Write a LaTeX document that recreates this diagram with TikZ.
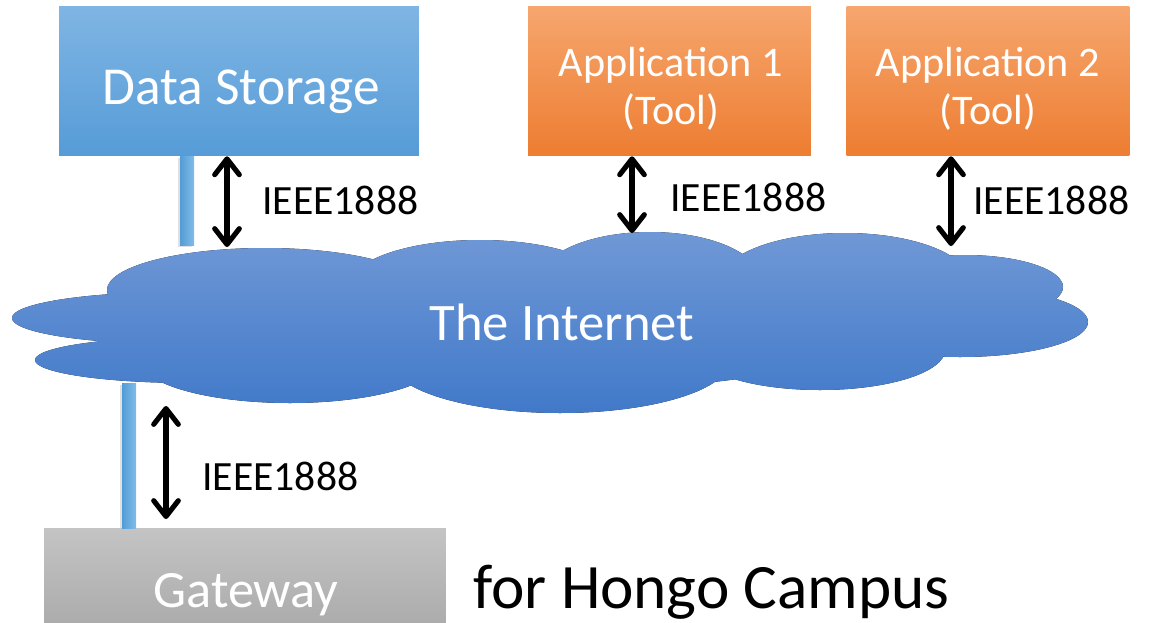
\documentclass[tikz,border=0pt]{standalone}
\usepackage{fontspec}
\setmainfont{Carlito}
\usetikzlibrary{arrows.meta}

\definecolor{dsTop}{RGB}{127,181,228}
\definecolor{dsBot}{RGB}{86,156,215}
\definecolor{apTop}{RGB}{246,166,110}
\definecolor{apBot}{RGB}{237,125,49}
\definecolor{gwTop}{RGB}{196,196,196}
\definecolor{gwBot}{RGB}{168,168,168}
\definecolor{cloudTop}{RGB}{112,152,214}
\definecolor{cloudBot}{RGB}{64,121,201}
\definecolor{stickL}{RGB}{84,156,214}
\definecolor{stickR}{RGB}{128,188,233}

\tikzset{
  box/.style={draw=none, inner sep=0pt, minimum width=#1},
  dsbox/.style={box=7.2cm, minimum height=3cm, top color=dsTop, bottom color=dsBot},
  apbox/.style={box=5.66cm, minimum height=3cm, top color=apTop, bottom color=apBot},
  gwbox/.style={box=8.04cm, minimum height=2.2cm, top color=gwTop, bottom color=gwBot},
  boxtext/.style={text=white, inner sep=0pt, anchor=base},
  proto/.style={inner sep=0pt, anchor=base west, font=\fontsize{23.7}{28}\selectfont},
  barb/.tip={Straight Barb[length=9pt,width=14pt,round]},
  biarrow/.style={line width=2.9pt, barb-barb},
  stick/.style={left color=stickL, right color=stickR},
  stickshadow/.style={fill=black, opacity=0.12}
}

\begin{document}
\begin{tikzpicture}[x=0.02cm, y=-0.02cm]
\clip (0,0) rectangle (1149,622);
\fill[white] (0,0) rectangle (1149,622);

% boxes
\node[dsbox] (ds) at (239,81) {};
\node[apbox] (ap1) at (669.5,81) {};
\node[apbox] (ap2) at (988,81) {};
\node[gwbox] (gw) at (245,583) {};

% box captions
\node[boxtext, font=\fontsize{30.4}{36}\selectfont] (dst) at (241,104) {Data Storage};
\node[boxtext, font=\fontsize{24}{29}\selectfont] (ap1a) at (671,76) {Application 1};
\node[boxtext, font=\fontsize{24}{29}\selectfont] (ap1b) at (671,124) {(Tool)};
\node[boxtext, font=\fontsize{24}{29}\selectfont] (ap2a) at (988,76) {Application 2};
\node[boxtext, font=\fontsize{24}{29}\selectfont] (ap2b) at (988,124) {(Tool)};
\node[boxtext, font=\fontsize{29.8}{36}\selectfont] (gwt) at (246,607) {Gateway};
\node[inner sep=0pt, anchor=base west, font=\fontsize{36}{43}\selectfont] (campus) at (473,608) {for Hongo Campus};

% wired links (sticks) behind the cloud
\fill[stickshadow] (178,158) rectangle (192,247);
\fill[stick] (180,156) rectangle (194,245);
\fill[stickshadow] (120,385) rectangle (134,528);
\fill[stick] (122,383) rectangle (136,528);

% the cloud: union of elliptic lobes, filled with one vertical gradient
\begin{scope}
  \clip (265,290) ellipse [x radius=158, y radius=42]
        (480,285) ellipse [x radius=130, y radius=45]
        (650,280) ellipse [x radius=110, y radius=48]
        (845,282) ellipse [x radius=125, y radius=49]
        (965,287) ellipse [x radius=98, y radius=32]
        (960,322) ellipse [x radius=128, y radius=35]
        (820,350) ellipse [x radius=125, y radius=40]
        (560,360) ellipse [x radius=170, y radius=53]
        (290,360) ellipse [x radius=150, y radius=43]
        (190,360) ellipse [x radius=155, y radius=23]
        (175,318) ellipse [x radius=163, y radius=26]
        (560,320) ellipse [x radius=330, y radius=70];
  \fill[top color=cloudTop, bottom color=cloudBot] (0,230) rectangle (1100,416);
\end{scope}
\node[text=white, inner sep=0pt, anchor=base, font=\fontsize{30}{36}\selectfont] (net) at (562,340) {The Internet};

% attachment points on the cloud
\coordinate (c1) at (227,247);
\coordinate (c2) at (632,233);
\coordinate (c3) at (951,246);
\coordinate (c4a) at (166,406);
\coordinate (c4b) at (166,519);

% IEEE1888 links
\draw[biarrow] (ds.south -| c1) -- (c1);
\draw[biarrow] (ap1.south -| c2) -- (c2);
\draw[biarrow] (ap2.south -| c3) -- (c3);
\draw[biarrow] (c4a) -- (c4b);

\node[proto] (p1) at (262,214) {IEEE1888};
\node[proto] (p2) at (670,211) {IEEE1888};
\node[proto] (p3) at (973,214) {IEEE1888};
\node[proto] (p4) at (202,490) {IEEE1888};
\end{tikzpicture}
\end{document}
